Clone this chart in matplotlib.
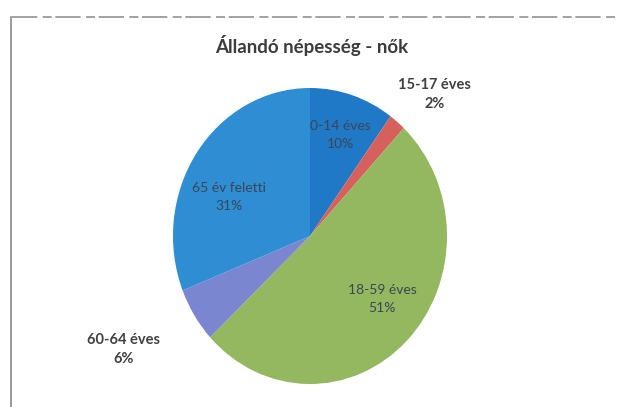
import matplotlib.pyplot as plt
import numpy as np
from matplotlib.lines import Line2D

plt.rcParams["font.family"] = ["Lato", "DejaVu Sans"]

labels = ["0-14 éves", "15-17 éves", "18-59 éves", "60-64 éves", "65 év feletti"]
shares = [10, 2, 51, 6, 31]
colors = ["#2079c6", "#d6605c", "#93b860", "#7a86d0", "#2e8dd3"]
# label placement: distance from centre (pie radii) and angle nudge (deg)
label_dist = [0.72, 1.32, 0.68, 1.56, 0.65]
label_shift = [0, -4, 6, -3, 10]
inside = [True, False, True, False, True]

fig = plt.figure(figsize=(6.17, 4.07), dpi=100)
fig.patch.set_facecolor("white")

# scanned frame: top and left border
fig.add_artist(Line2D([12 / 617, 1.0], [1 - 17 / 407, 1 - 17 / 407], transform=fig.transFigure,
                      color="#9a9a9a", linewidth=1.3, linestyle=(0, (14, 3, 5, 2))))
fig.add_artist(Line2D([11 / 617, 11 / 617], [0.0, 1 - 17 / 407], transform=fig.transFigure,
                      color="#8a8a8a", linewidth=1.2))

fig.text(312 / 617, 1 - 46 / 407, "Állandó népesség - nők", ha="center", va="center",
         fontsize=13.5, fontweight="bold", color="#3c3c3c")

# pie slightly taller than wide, as in the scan
ax = fig.add_axes([173 / 617, 1 - 384 / 407, 274 / 617, 296 / 407])
wedges, _ = ax.pie(shares, colors=colors, startangle=90, counterclock=False, radius=1.0,
                   wedgeprops=dict(linewidth=0))
ax.set_xlim(-1, 1)
ax.set_ylim(-1, 1)
ax.set_aspect("auto")
ax.axis("off")

for w, lab, pct, r, sh, ins in zip(wedges, labels, shares, label_dist, label_shift, inside):
    mid = np.deg2rad((w.theta1 + w.theta2) / 2 + sh)
    x, y = r * np.cos(mid), r * np.sin(mid)
    if ins:
        ax.text(x, y, f"{lab}\n{pct}%", ha="center", va="center", fontsize=10,
                color="#3a4654", linespacing=1.6, clip_on=False)
    else:
        ax.text(x, y, f"{lab}\n{pct}%", ha="center", va="center", fontsize=10.5,
                fontweight="bold", color="#404040", linespacing=1.45, clip_on=False)

fig.savefig("out.png", dpi=100, facecolor="white")
